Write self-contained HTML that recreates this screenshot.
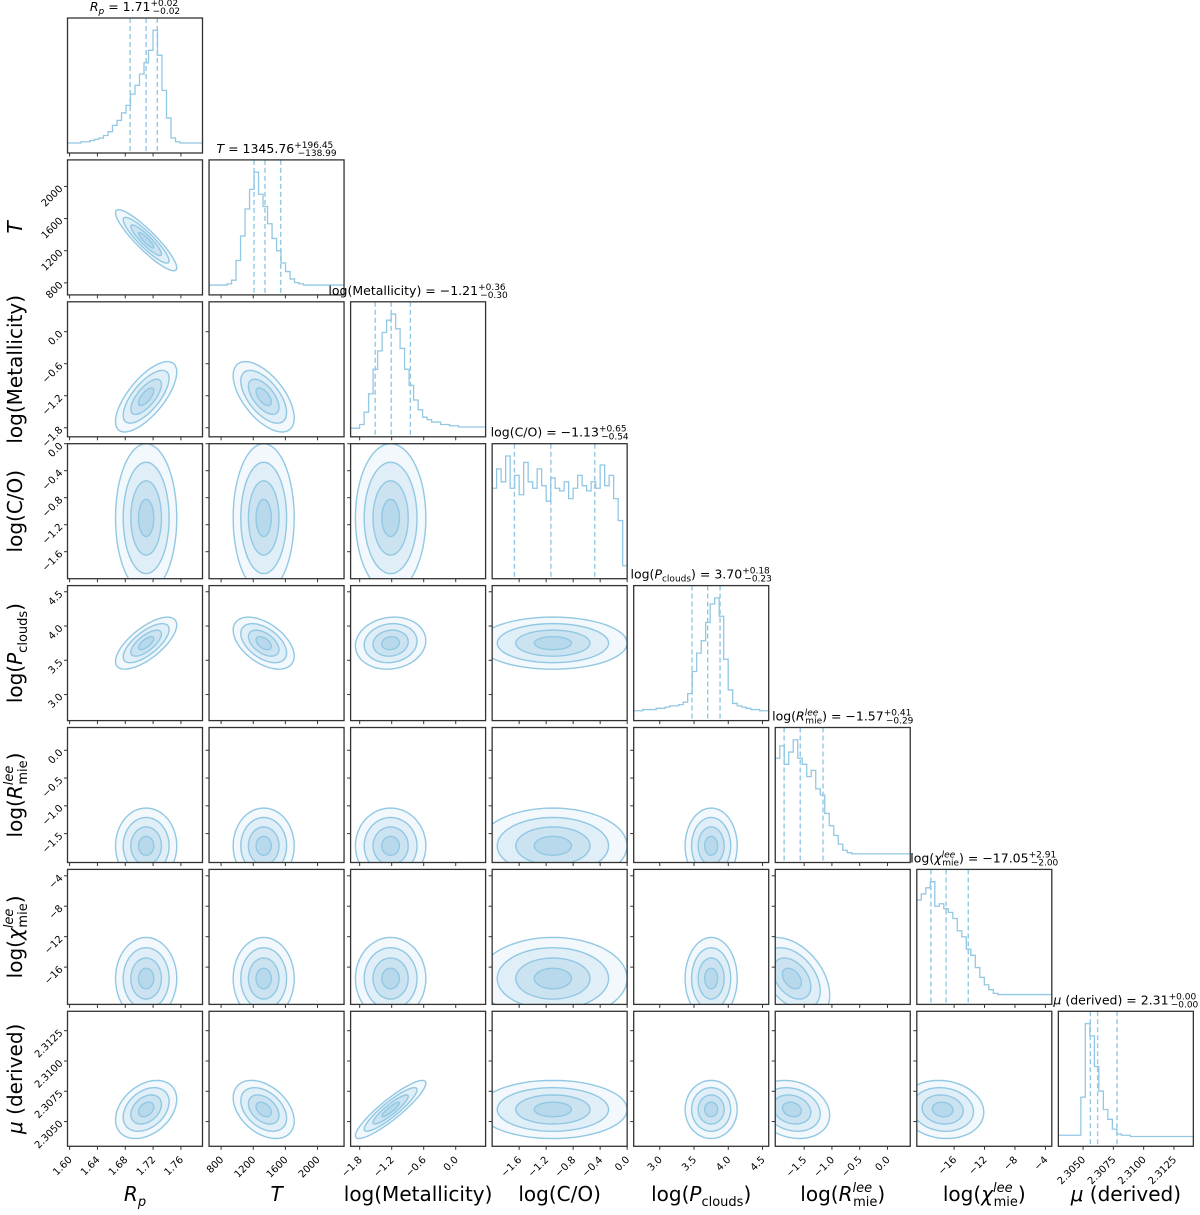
<!DOCTYPE html>
<html><head><meta charset="utf-8"><style>
html,body{margin:0;padding:0;background:#fff;}
svg{display:block;font-family:"DejaVu Sans","Liberation Sans",sans-serif;}
</style></head><body>
<svg id="fig" width="1200" height="1215" viewBox="0 0 1200 1215" xmlns="http://www.w3.org/2000/svg"></svg>
<script>
const paramKeys = ["rp","t","met","co","pc","rmie","chi","mu"];
const axisLo = [1.597, 650, -1.97, -2.0, 2.62, -2.02, -20.9, 2.30296];
const axisHi = [1.791, 2330, 0.56, 0.0, 4.59, 0.41, -3.16, 2.3141];
const tickVals = [
  [1.60,1.64,1.68,1.72,1.76],[800,1200,1600,2000],[-1.8,-1.2,-0.6,0.0],
  [-1.6,-1.2,-0.8,-0.4,0.0],[3.0,3.5,4.0,4.5],[-1.5,-1.0,-0.5,0.0],
  [-16,-12,-8,-4],[2.305,2.3075,2.31,2.3125]];
const tickText = [
  ["1.60","1.64","1.68","1.72","1.76"],["800","1200","1600","2000"],["−1.8","−1.2","−0.6","0.0"],
  ["−1.6","−1.2","−0.8","−0.4","0.0"],["3.0","3.5","4.0","4.5"],["−1.5","−1.0","−0.5","0.0"],
  ["−16","−12","−8","−4"],["2.3050","2.3075","2.3100","2.3125"]];
const histRp = [8,8,8,9,9,10,11,12,14,17,22,26,32,38,47,54,63,72,82,98,78,50,28,12,9,8,8,8,8,8];
const histT = [8,8,8,8,9,12,28,48,70,86,100,82,72,58,46,36,26,19,13,10,9,8,8,8,8,8,8,8,8,8];
const histMet = [7,7,10,20,35,55,70,85,95,100,88,72,55,42,30,22,16,14,12,12,10,10,9,9,8,8,8,8,8,8];
const histCo = [70,85,75,95,70,80,65,90,75,70,85,72,60,78,70,68,75,62,70,80,72,68,75,70,88,72,80,62,45,10];
const histPc = [8,8,9,9,9,10,10,11,12,12,13,15,22,40,55,65,80,95,100,85,50,25,14,12,11,10,9,9,8,8];
const histRmie = [85,95,80,90,100,85,80,70,75,60,55,40,30,22,15,10,8,7,7,7,7,7,7,7,7,7,7,7,7,7];
const histChi = [85,90,95,100,80,82,78,75,70,60,55,45,40,30,22,16,12,9,8,8,8,8,8,8,8,8,8,8,8,8];
const histMu = [9,9,9,9,9,40,100,90,65,45,30,22,14,10,9,9,8,8,8,8,8,8,8,8,8,8,8,8,8,8];
const hists = [histRp,histT,histMet,histCo,histPc,histRmie,histChi,histMu];
const quantLo = [1.687, 1210, -1.51, -1.67, 3.47, -1.86, -19.05, 2.3056];
const quantMid = [1.710, 1346, -1.21, -1.13, 3.70, -1.57, -17.05, 2.3062];
const quantHi = [1.726, 1542, -0.85, -0.48, 3.88, -1.16, -14.14, 2.3078];
const centers = [1.710, 1330, -1.22, -1.1, 3.75, -1.72, -17.5, 2.3060];
const sigmas = [0.022, 190, 0.33, 0.55, 0.19, 0.34, 2.7, 0.0012];
const corrPairs = [[0,1,-0.9],[0,2,0.7],[0,4,0.7],[0,7,0.35],[1,2,-0.6],[1,4,-0.5],[1,7,-0.4],[2,7,0.9],[2,4,0.1],[5,6,-0.4],[5,7,-0.2],[6,7,-0.1]];
const titleUp = ["+0.02","+196.45","+0.36","+0.65","+0.18","+0.41","+2.91","+0.00"];
const titleDn = ["−0.02","−138.99","−0.30","−0.54","−0.23","−0.29","−2.00","−0.00"];

const NS="http://www.w3.org/2000/svg";
const svg=document.getElementById('fig');
const N=8, PW=135, PH=135;
const px0=i=>67.5+i*141.55, py0=i=>18+i*141.9;
function el(tag,attrs,parent){const e=document.createElementNS(NS,tag);for(const k in attrs)e.setAttribute(k,attrs[k]);(parent||svg).appendChild(e);return e;}
function sx(i,v){return px0(i)+(v-axisLo[i])/(axisHi[i]-axisLo[i])*PW;}
function sy(j,r,v){return py0(r)+PH-(v-axisLo[j])/(axisHi[j]-axisLo[j])*PH;}
function corr(a,b){for(const p of corrPairs){if((p[0]===a&&p[1]===b)||(p[0]===b&&p[1]===a))return p[2];}return 0;}
const defs=el('defs',{});
const LINE="#92c8e3";

for(let r=0;r<N;r++){
  for(let c=0;c<=r;c++){
    const x0=px0(c), y0=py0(r);
    const g=el('g',{});
    
    
    const cp=el('clipPath',{id:'cp'+r+'_'+c},defs);
    el('rect',{x:x0,y:y0,width:PW,height:PH},cp);
    const inner=el('g',{'clip-path':'url(#cp'+r+'_'+c+')'},g);
    if(c===r){
      const h=hists[c], nb=h.length, mx=Math.max(...h)*1.1;
      let d='';
      for(let b=0;b<nb;b++){
        const xa=x0+b/nb*PW, xb=x0+(b+1)/nb*PW, yy=y0+PH-h[b]/mx*PH;
        d+=(b===0?'M'+xa+' '+yy:'L'+xa+' '+yy)+' L'+xb+' '+yy+' ';
      }
      const p=el('path',{d:d,fill:'none',stroke:LINE,'stroke-width':1.3},inner);
      
      
      for(const q of [quantLo[c],quantMid[c],quantHi[c]]){
        const qx=sx(c,q);
        const l=el('line',{x1:qx,x2:qx,y1:y0,y2:y0+PH,stroke:LINE,'stroke-width':1.4,'stroke-dasharray':'5,3'},inner);
        
        
      }
    } else {
      const sxp=sigmas[c]/(axisHi[c]-axisLo[c])*PW, syp=sigmas[r]/(axisHi[r]-axisLo[r])*PH;
      const rho=-corr(c,r);
      const a=sxp*sxp, d2=syp*syp, b=rho*sxp*syp;
      const th=0.5*Math.atan2(2*b,a-d2);
      const tr=(a+d2)/2, dd=Math.sqrt(((a-d2)/2)**2+b*b);
      const l1=Math.sqrt(tr+dd), l2=Math.sqrt(Math.max(tr-dd,0.5));
      const cx=sx(c,centers[c]), cy=sy(r,r,centers[r]);
      [2,1.5,1,0.5].forEach((k,idx)=>{
        let d='';
        for(let t=0;t<=64;t++){
          const an=t/64*2*Math.PI, u=k*l1*Math.cos(an), v=k*l2*Math.sin(an);
          const X=cx+u*Math.cos(th)-v*Math.sin(th), Y=cy+u*Math.sin(th)+v*Math.cos(th);
          d+=(t===0?'M':'L')+X.toFixed(1)+' '+Y.toFixed(1)+' ';
        }
        const p=el('path',{d:d+'Z',fill:'rgba(150,200,228,'+(0.12+idx*0.08)+')',stroke:LINE,'stroke-width':1.4},inner);
        
        
      });
      tickVals[r].forEach(v=>{const yy=sy(r,r,v);if(yy<y0-1||yy>y0+PH+1)return;el('line',{x1:x0,x2:x0-3.5,y1:yy,y2:yy,stroke:'#333','stroke-width':1},g);});
    }
    tickVals[c].forEach(v=>{const xx=sx(c,v);if(xx<x0-1||xx>x0+PW+1)return;el('line',{x1:xx,x2:xx,y1:y0+PH,y2:y0+PH+3.5,stroke:'#333','stroke-width':1},g);});
    const fr=el('rect',{x:x0,y:y0,width:PW,height:PH,fill:'none',stroke:'#333','stroke-width':1.3},g);
    
    
  }
}
for(let c=0;c<N;c++){
  const y=py0(7)+PH+8;
  tickVals[c].forEach((v,k)=>{
    const xx=sx(c,v)+3;
    const t=el('text',{x:xx,y:y+6,'font-size':10,'text-anchor':'end',transform:'rotate(-45 '+xx+' '+(y+6)+')',fill:'#000'});
    t.textContent=tickText[c][k];
    
    
  });
}
for(let r=1;r<N;r++){
  tickVals[r].forEach((v,k)=>{
    const yy=sy(r,r,v); if(yy<py0(r)-2||yy>py0(r)+PH+2)return;
    const xx=px0(0)-7;
    const t=el('text',{x:xx,y:yy+4,'font-size':10,'text-anchor':'end',transform:'rotate(-45 '+xx+' '+yy+')',fill:'#000'});
    t.textContent=tickText[r][k];
    
    
  });
}
const xLabelHTML=[
 '<tspan font-style="italic">R</tspan><tspan font-style="italic" font-size="13" dy="5">p</tspan>',
 '<tspan font-style="italic">T</tspan>',
 'log(Metallicity)','log(C/O)',
 'log(<tspan font-style="italic">P</tspan><tspan font-size="13" dy="5">clouds</tspan><tspan dy="-5">)</tspan>',
 'log(<tspan font-style="italic">R</tspan><tspan font-size="13" font-style="italic" dy="-9">lee</tspan><tspan font-size="13" dx="-19" dy="14">mie</tspan><tspan dy="-5">)</tspan>',
 'log(<tspan font-style="italic">χ</tspan><tspan font-size="13" font-style="italic" dy="-9">lee</tspan><tspan font-size="13" dx="-19" dy="14">mie</tspan><tspan dy="-5">)</tspan>',
 '<tspan font-style="italic">μ</tspan> (derived)'];
for(let c=0;c<N;c++){
  const t=el('text',{x:px0(c)+PW/2,y:1201,'font-size':20,'text-anchor':'middle',fill:'#000'});
  t.innerHTML=xLabelHTML[c];
  
  
}
for(let r=1;r<N;r++){
  const cx=22, cy=py0(r)+PH/2;
  const t=el('text',{x:cx,y:cy,'font-size':20,'text-anchor':'middle',transform:'rotate(-90 '+cx+' '+cy+')',fill:'#000'});
  t.innerHTML=xLabelHTML[r];
  
  
}
const titleHTML=[
 '<tspan font-style="italic">R</tspan><tspan font-style="italic" font-size="9" dy="3">p</tspan><tspan dy="-3"> = 1.71</tspan>',
 '<tspan font-style="italic">T</tspan> = 1345.76',
 'log(Metallicity) = −1.21','log(C/O) = −1.13',
 'log(<tspan font-style="italic">P</tspan><tspan font-size="9" dy="3">clouds</tspan><tspan dy="-3">) = 3.70</tspan>',
 'log(<tspan font-style="italic">R</tspan><tspan font-size="9" font-style="italic" dy="-5">lee</tspan><tspan font-size="9" dx="-13" dy="8">mie</tspan><tspan dy="-3">) = −1.57</tspan>',
 'log(<tspan font-style="italic">χ</tspan><tspan font-size="9" font-style="italic" dy="-5">lee</tspan><tspan font-size="9" dx="-13" dy="8">mie</tspan><tspan dy="-3">) = −17.05</tspan>',
 '<tspan font-style="italic">μ</tspan> (derived) = 2.31'];
for(let c=0;c<N;c++){
  const up=titleUp[c], dn=titleDn[c];
  const w=(up.length*5.1).toFixed(1);
  const t=el('text',{x:px0(c)+PW/2,y:py0(c)-7,'font-size':12.5,'text-anchor':'middle',fill:'#000'});
  t.innerHTML=titleHTML[c]+'<tspan font-size="9" dy="-5">'+up+'</tspan><tspan font-size="9" dx="-'+w+'" dy="8">'+dn+'</tspan>';
  
  
}
</script>
</body></html>
